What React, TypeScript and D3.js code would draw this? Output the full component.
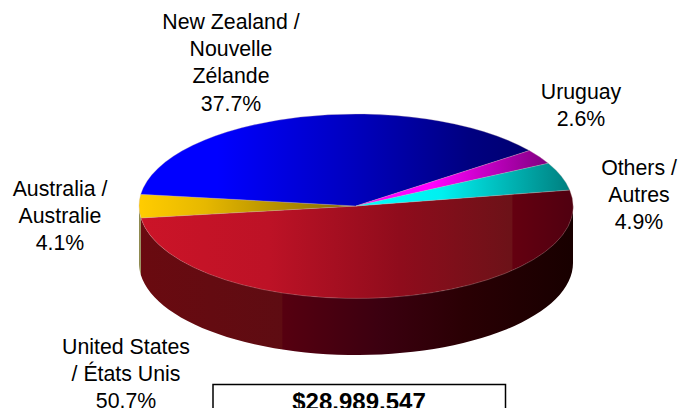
import React from 'react';
import * as d3 from 'd3';

const WIDTH = 680;
const HEIGHT = 408;

const names = ['United States', 'Australia', 'New Zealand', 'Uruguay', 'Others'];
const shares = [50.7, 4.1, 37.7, 2.6, 4.9];
const shareLabels = ['50.7%', '4.1%', '37.7%', '2.6%', '4.9%'];
const labelLines = [
  ['United States', '/ États Unis'],
  ['Australia /', 'Australie'],
  ['New Zealand /', 'Nouvelle', 'Zélande'],
  ['Uruguay'],
  ['Others /', 'Autres'],
];
// centre x and first baseline of each label
const labelAnchors = [
  [126, 354],
  [60, 196],
  [231, 29],
  [581, 99],
  [639, 175],
];
const total = '$28.989.547';

// horizontal shading, offsets run along the slice's own x extent
const topStops = [
  [[0, '#cc1428'], [0.3, '#bd1226'], [0.6, '#8f0c1c'], [0.86, '#6c1218'], [0.861, '#640010'], [1, '#500010']],
  [[0, '#ffcc00'], [0.3, '#e6b800'], [1, '#806600']],
  [[0, '#0000ff'], [0.2, '#0000ff'], [0.54, '#0000c0'], [0.85, '#000080'], [1, '#000070']],
  [[0, '#ff00ff'], [0.4, '#ff00ff'], [1, '#800080']],
  [[0, '#00ffff'], [0.4, '#00f0f0'], [1, '#007f7f']],
];
const wallStops = [[0, '#6a0a10'], [0.33, '#5e0c12'], [0.331, '#560010'], [0.55, '#3c0010'], [0.75, '#2a0004'], [1, '#180000']];

const cx = 356;
const cy = 206;
const rx = 217;
const ry = 92;
const depth = 57;
const startDeg = 80;

const pie = d3.pie<number>().sort(null).startAngle((startDeg * Math.PI) / 180).endAngle(((startDeg + 360) * Math.PI) / 180);
const slices = pie(shares);
const arc = d3.arc<d3.PieArcDatum<number>>().innerRadius(0).outerRadius(1);

const px = (a: number) => cx + rx * Math.sin(a);
const py = (a: number) => cy - ry * Math.cos(a);

// only the part of a slice between 90 and 270 degrees shows a wall
const frontAngles = (s: d3.PieArcDatum<number>) => {
  const lo = Math.max(s.startAngle, Math.PI / 2);
  const hi = Math.min(s.endAngle, (3 * Math.PI) / 2);
  if (hi <= lo) return [];
  return d3.range(0, 61).map((i) => lo + ((hi - lo) * i) / 60);
};
const wall = d3.area<number>().x(px).y0(py).y1((a) => py(a) + depth);

export default function App() {
  return (
    <svg width={WIDTH} height={HEIGHT} style={{ position: 'absolute', left: 0, top: 0, background: '#fff' }} fontFamily="Liberation Sans, Arial, sans-serif">
      <defs>
        {slices.map((s, i) => {
          const xs = [s.startAngle, s.endAngle].map((a) => Math.sin(a));
          // the gradients live in the unit space of the scaled arcs
          const x1 = i === 0 || i === 2 ? -1 : Math.min(0, ...xs);
          const x2 = i === 0 ? 1 : i === 2 ? Math.max(...xs) : Math.max(0, ...xs);
          return (
            <linearGradient key={i} id={`top${i}`} gradientUnits="userSpaceOnUse" x1={x1} x2={x2} y1={0} y2={0}>
              {topStops[i].map(([o, c], j) => <stop key={j} offset={o as number} stopColor={c as string} />)}
            </linearGradient>
          );
        })}
        <linearGradient id="wall0" gradientUnits="userSpaceOnUse" x1={cx - rx} x2={cx + rx} y1={0} y2={0}>
          {wallStops.map(([o, c], j) => <stop key={j} offset={o as number} stopColor={c as string} />)}
        </linearGradient>
      </defs>

      {slices.map((s, i) => {
        const pts = frontAngles(s);
        if (!pts.length) return null;
        const fill = i === 0 ? 'url(#wall0)' : i === 1 ? '#8f8a50' : '#120000';
        return <path key={names[i]} d={wall(pts) ?? ''} fill={fill} />;
      })}

      {slices.map((s, i) => (
        <path
          key={names[i]}
          d={arc(s) ?? ''}
          transform={`translate(${cx},${cy}) scale(${rx},${ry})`}
          fill={`url(#top${i})`}
          stroke="#c8b0b0"
          strokeWidth={0.5}
          strokeOpacity={0.6}
          vectorEffect="non-scaling-stroke"
        />
      ))}

      {labelLines.map((lines, i) => (
        <text key={names[i]} textAnchor="middle" fontSize={21.3} fill="#000">
          {[...lines, shareLabels[i]].map((t, j) => (
            <tspan key={j} x={labelAnchors[i][0]} y={labelAnchors[i][1] + j * 27.2}>{t}</tspan>
          ))}
        </text>
      ))}

      <rect x={213} y={384.5} width={292.5} height={60} fill="#fff" stroke="#000" strokeWidth={1.5} />
      <text x={359} y={409.5} textAnchor="middle" fontSize={24} fontWeight="bold" fill="#000">{total}</text>
    </svg>
  );
}
